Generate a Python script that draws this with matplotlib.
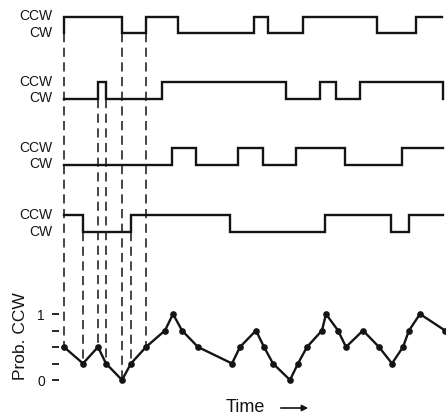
import numpy as np
import matplotlib.pyplot as plt

plt.rcParams['font.family'] = ['Liberation Sans', 'DejaVu Sans']

# switching times of the four motors (1 = CCW, 0 = CW)
motor_start = [0, 0, 0, 1]
motor_switch = [
    [0, 58, 82, 114, 190, 204, 239, 313, 352],
    [34, 42, 98, 222, 256, 272, 296, 379],
    [108, 132, 174, 199, 232, 281, 338],
    [19, 67, 166, 261, 327, 345],
]
motor_end = [378, 379, 379, 379]

# probability of CCW rotation
prob_t = [0, 19, 34, 42, 58, 67, 82, 101, 109, 118, 134, 168, 176, 192, 200,
          209, 226, 234, 243, 258, 262, 274, 282, 299, 315, 328, 339, 345, 356, 381]
prob_v = [0.5, 0.25, 0.5, 0.25, 0, 0.25, 0.5, 0.75, 1, 0.75, 0.5, 0.25, 0.5, 0.75, 0.5,
          0.25, 0, 0.25, 0.5, 0.75, 1, 0.75, 0.5, 0.75, 0.5, 0.25, 0.5, 0.75, 1, 0.75]

# which motor switch is carried down to the probability trace
guide_t = [0, 19, 34, 42, 58, 67, 82]
guide_motor = [0, 3, 1, 1, 0, 3, 0]

row_ccw = [16.5, 82, 148, 215]
gap = 16.5
p0, p1 = 380, 314
ink = '#141414'


def level(i, s):
    return row_ccw[i] + (1 - s) * gap


def prob_y(p):
    return p0 + (p1 - p0) * np.asarray(p)


def steps(start, switches, end):
    xs, ys = [0], [start]
    s = start
    for t in switches:
        xs.append(t); ys.append(s)
        s = 1 - s
        xs.append(t); ys.append(s)
    xs.append(end); ys.append(s)
    return np.array(xs), np.array(ys)


fig = plt.figure(figsize=(4.46, 4.16), dpi=100)
ax = fig.add_axes([59 / 446, 0, 387 / 446, 1])
ax.set_xlim(-5, 382)
ax.set_ylim(416, 0)

for i in range(4):
    xs, ys = steps(motor_start[i], motor_switch[i], motor_end[i])
    ax.plot(xs, level(i, ys), color=ink, lw=1.7, solid_joinstyle='miter')
    ax.text(-12, row_ccw[i], 'CCW', ha='right', va='center', fontsize=10, color=ink)
    ax.text(-12, row_ccw[i] + gap, 'CW', ha='right', va='center', fontsize=10, color=ink)

# dashed guides from each switch to the probability curve
for t, m in zip(guide_t, guide_motor):
    ytop = level(m, 0)
    ybot = prob_y(np.interp(t, prob_t, prob_v))
    ax.vlines(t, ytop, ybot, color=ink, lw=1.1, linestyles=(0, (6, 3.6)))

ax.plot(prob_t, prob_y(prob_v), color=ink, lw=1.7, marker='o', ms=3.8,
        clip_on=False)

levels = [0, 0.25, 0.5, 0.75, 1]
ax.set_yticks(prob_y(levels))
ax.set_yticklabels(['0', '', '', '', '1'])
ax.tick_params(axis='y', length=5, width=1.3, pad=5, labelsize=10, colors=ink)
ax.set_xticks([])
for sp in ax.spines.values():
    sp.set_visible(False)

ax.text(-43, 336, 'Prob. CCW', rotation=90, ha='center', va='center',
        fontsize=12.5, color=ink)
ax.text(162, 407, 'Time', ha='left', va='center', fontsize=13, color=ink)
ax.annotate('', xy=(247, 408), xytext=(214, 408),
            arrowprops=dict(arrowstyle='-|>', lw=1.2, color=ink, mutation_scale=9))

fig.savefig('out.png', dpi=100, facecolor='white')
